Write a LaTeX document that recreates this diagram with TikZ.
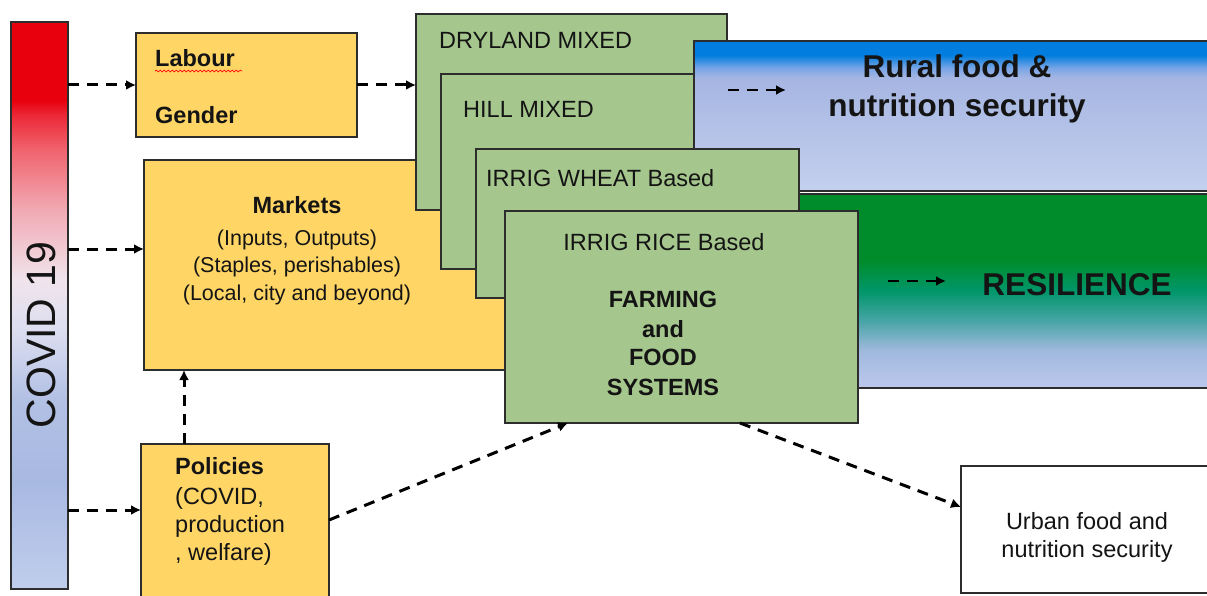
\documentclass[tikz,border=0pt]{standalone}
\usepackage{fontspec}
\setmainfont{Liberation Sans}
\usetikzlibrary{arrows.meta, positioning, calc, decorations.pathmorphing}

\definecolor{boxyellow}{RGB}{255,214,102}
\definecolor{boxgreen}{RGB}{165,199,141}
\definecolor{edge}{RGB}{45,45,45}
\definecolor{ink}{RGB}{20,20,20}
% covid bar
\definecolor{covB}{RGB}{192,205,236}
\definecolor{covC}{RGB}{168,185,226}
\definecolor{covD}{RGB}{178,192,228}
\definecolor{covE}{RGB}{220,222,240}
\definecolor{covF}{RGB}{240,228,236}
\definecolor{covG}{RGB}{241,170,180}
\definecolor{covH}{RGB}{240,100,110}
\definecolor{covI}{RGB}{236,40,55}
\definecolor{covR}{RGB}{232,0,12}
% rural box
\definecolor{rurB}{RGB}{196,208,238}
\definecolor{rurC}{RGB}{166,182,226}
\definecolor{rurD}{RGB}{120,165,230}
\definecolor{rurE}{RGB}{0,125,222}
% resilience box
\definecolor{resB}{RGB}{188,200,236}
\definecolor{resC}{RGB}{160,185,222}
\definecolor{resD}{RGB}{70,165,165}
\definecolor{resE}{RGB}{0,150,105}
\definecolor{resF}{RGB}{0,140,42}

\pgfdeclareverticalshading{covidshade}{100bp}{color(0bp)=(covB); color(25bp)=(covB); color(34.6bp)=(covC); color(41.7bp)=(covD); color(47.8bp)=(covE); color(52.2bp)=(covF); color(58.4bp)=(covG); color(63.7bp)=(covH); color(66.8bp)=(covI); color(68.1bp)=(covR); color(100bp)=(covR)}
\pgfdeclareverticalshading{ruralshade}{100bp}{color(0bp)=(rurB); color(25bp)=(rurB); color(62.7bp)=(rurC); color(66bp)=(rurD); color(70.3bp)=(rurE); color(100bp)=(rurE)}
\pgfdeclareverticalshading{resilshade}{100bp}{color(0bp)=(resB); color(25bp)=(resB); color(34.7bp)=(resC); color(42.4bp)=(resD); color(50.1bp)=(resE); color(58bp)=(resF); color(100bp)=(resF)}

\newcommand{\boxfont}{\fontsize{23.5}{28}\selectfont}
\newcommand{\mktfont}{\fontsize{21.5}{27}\selectfont}
\newcommand{\headfont}{\fontsize{31.5}{37}\selectfont\bfseries}

\tikzset{
  panel/.style={draw=edge, line width=1.4pt, anchor=north west, inner sep=0pt, outer sep=0pt},
  yellowbox/.style={panel, fill=boxyellow},
  greenbox/.style={panel, fill=boxgreen},
  lbl/.style={inner sep=0pt, text=ink, font=\boxfont},
  dasharrow/.style={line width=3pt, dash pattern=on 11pt off 8pt, -{Latex[length=10pt,width=10pt]}}
}

\begin{document}
\begin{tikzpicture}[x=1pt, y=-1pt]
\useasboundingbox (0,0) rectangle (1207,596);
\clip (0,0) rectangle (1207,596);

% left column
\node [panel, shade, shading=covidshade, minimum width=57pt, minimum height=567pt] (covid) at (11,22) {};
\node [inner sep=0pt, text=ink, rotate=90, font=\fontsize{41}{41}\selectfont] (tcovid) at (41,335) {COVID 19};

\node [yellowbox, minimum width=221pt, minimum height=104pt] (labour) at (136,33) {};
\node [lbl, anchor=base west, font=\boxfont\bfseries] (tlabour) at (155,67) {Labour};
\draw [red, line width=0.7pt, decorate, decoration={snake, amplitude=0.9pt, segment length=4pt}] (155,71) -- (242,71);
\node [lbl, anchor=base west, font=\boxfont\bfseries] (tgender) at (155,124) {Gender};

\node [yellowbox, minimum width=380pt, minimum height=210pt] (markets) at (144,160) {};
\node [lbl, anchor=base, font=\boxfont\bfseries] (tmarkets) at (297,214) {Markets};
\node [lbl, anchor=base, font=\mktfont] (tinputs) at (297,245) {(Inputs, Outputs)};
\node [lbl, anchor=base, font=\mktfont] (tstaples) at (297,272) {(Staples, perishables)};
\node [lbl, anchor=base, font=\mktfont] (tlocal) at (297,300) {(Local, city and beyond)};

\node [yellowbox, minimum width=188pt, minimum height=170pt] (policies) at (141,444) {};
\node [lbl, anchor=base west, font=\boxfont\bfseries] (tpolicies) at (175,474) {Policies};
\node [lbl, anchor=base west] (tpol1) at (175,504) {(COVID,};
\node [lbl, anchor=base west] (tpol2) at (175,532) {production};
\node [lbl, anchor=base west] (tpol3) at (175,560) {, welfare)};

% farming systems stack
\node [greenbox, minimum width=311pt, minimum height=196pt] (dryland) at (416,14) {};
\node [lbl, anchor=base west] (tdryland) at (439,49) {DRYLAND MIXED};
\node [greenbox, minimum width=300pt, minimum height=195pt] (hill) at (441,74) {};
\node [lbl, anchor=base west] (thill) at (463,118) {HILL MIXED};

% outcomes
\node [panel, shade, shading=ruralshade, minimum width=530pt, minimum height=150pt] (rural) at (694,41) {};
\node [lbl, anchor=base, font=\headfont] (trural1) at (957,78) {Rural food \&};
\node [lbl, anchor=base, font=\headfont] (trural2) at (957,117) {nutrition security};
\node [panel, shade, shading=resilshade, minimum width=530pt, minimum height=194pt] (resil) at (694,194) {};
\node [lbl, anchor=base, font=\headfont] (tresil) at (1077,295) {RESILIENCE};

\node [greenbox, minimum width=323pt, minimum height=149pt] (wheat) at (476,149) {};
\node [lbl, anchor=base west] (twheat) at (486,187) {IRRIG WHEAT Based};
\node [greenbox, minimum width=353pt, minimum height=212pt] (rice) at (505,211) {};
\node [lbl, anchor=base] (trice) at (664,250) {IRRIG RICE Based};
\node [lbl, anchor=base, font=\boxfont\bfseries] (tfarm1) at (663,307) {FARMING};
\node [lbl, anchor=base, font=\boxfont\bfseries] (tfarm2) at (663,337) {and};
\node [lbl, anchor=base, font=\boxfont\bfseries] (tfarm3) at (663,365) {FOOD};
\node [lbl, anchor=base, font=\boxfont\bfseries] (tfarm4) at (663,395) {SYSTEMS};

\node [panel, fill=white, minimum width=260pt, minimum height=127pt] (urban) at (961,466) {};
\node [lbl, anchor=base] (turban1) at (1087,529) {Urban food and};
\node [lbl, anchor=base] (turban2) at (1087,557) {nutrition security};

% connectors
\draw [dasharrow] (covid.east |- labour.west) -- (labour.west);
\draw [dasharrow] (labour.east) -- (dryland.west |- labour.east);
\draw [dasharrow] (covid.east |- 0,249) -- (markets.west |- 0,249);
\draw [dasharrow] (covid.east |- 0,510) -- (policies.west |- 0,510);
\draw [dasharrow] (policies.north -| 184,0) -- (markets.south -| 184,0);
\draw [dasharrow] (policies.east |- 0,520) -- (rice.south -| 568,0);
\draw [dasharrow] (rice.south -| 740,0) -- (urban.west |- 0,507);

\coordinate (ruralfrom) at (728,90);
\coordinate (ruralto) at (786,90);
\draw [dasharrow, line width=2.5pt] (ruralfrom) -- (ruralto);
\coordinate (resilfrom) at (888,281);
\coordinate (resilto) at (946,281);
\draw [dasharrow, line width=2.5pt] (resilfrom) -- (resilto);
\end{tikzpicture}
\end{document}
